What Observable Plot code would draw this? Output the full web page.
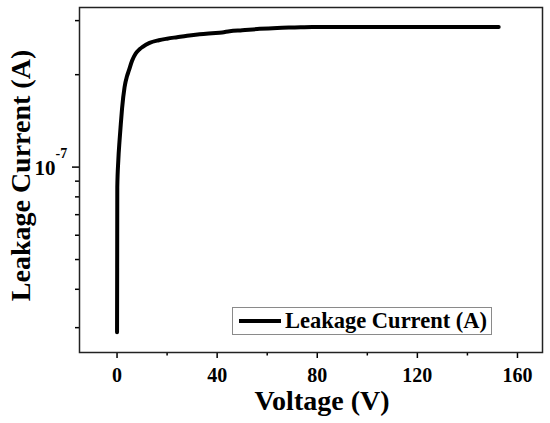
<!DOCTYPE html>
<html>
<head>
<meta charset="utf-8">
<script src="https://cdn.jsdelivr.net/npm/d3@7"></script>
<script src="https://cdn.jsdelivr.net/npm/@observablehq/plot@0.6"></script>
<style>
  html, body { margin: 0; padding: 0; background: #fff; }
  #wrap { position: relative; width: 550px; height: 423px; }
  #legend {
    position: absolute; left: 232px; top: 307px; width: 260px; height: 28px;
    border: 1px solid #8a8a8a; background: #fff; box-sizing: border-box;
    display: flex; align-items: center;
    font-family: "Liberation Serif", "Times New Roman", serif; font-weight: bold; font-size: 22.5px; color: #000;
  }
  #legend .swatch { display: inline-block; width: 42px; height: 0; border-top: 4px solid #000; margin: 0 4px 0 6px; }
</style>
</head>
<body>
<div id="wrap"></div>
<script>
// Data
const voltage = [0, 0.05, 0.1, 0.5, 1.0, 1.5, 2.0, 3.0, 4.0, 4.7, 6.0, 7.4, 9.0, 10.1, 13, 16.7, 20, 24, 28, 33, 38, 42, 45, 50, 57, 64, 71, 78, 100, 125, 152.5];
const current = [2.90e-8, 4.7e-8, 8.6e-8, 1.05e-7, 1.22e-7, 1.38e-7, 1.55e-7, 1.82e-7, 1.98e-7, 2.06e-7, 2.22e-7, 2.34e-7, 2.42e-7, 2.46e-7, 2.54e-7, 2.59e-7, 2.62e-7, 2.65e-7, 2.68e-7, 2.71e-7, 2.73e-7, 2.745e-7, 2.77e-7, 2.79e-7, 2.82e-7, 2.84e-7, 2.85e-7, 2.86e-7, 2.86e-7, 2.86e-7, 2.86e-7];
const xTicks = [0, 40, 80, 120, 160];
const xMinorTicks = [20, 60, 100, 140];
const yMajorTicks = [1e-7];
const yMinorTicks = [3e-8, 4e-8, 5e-8, 6e-8, 7e-8, 8e-8, 9e-8, 2e-7, 3e-7];
const yTickBase = ["10"];
const yTickExp = ["-7"];
const xLabel = "Voltage (V)";
const yLabel = "Leakage Current (A)";
const seriesName = "Leakage Current (A)";

const data = voltage.map((v, i) => ({v, c: current[i]}));
const serif = "'Liberation Serif', 'Times New Roman', serif";

const chart = Plot.plot({
  width: 550,
  height: 423,
  marginLeft: 79,
  marginRight: 8,
  marginTop: 7,
  marginBottom: 71,
  style: {fontFamily: serif, fontWeight: "bold", background: "#fff", color: "#000", overflow: "visible"},
  x: {domain: [-15, 170]},
  y: {type: "log", domain: [2.49e-8, 3.31e-7]},
  marks: [
    Plot.axisX({ticks: xTicks, tickSize: 6, tickPadding: 9, fontSize: 20, fontWeight: "bold", tickFormat: d => String(d), strokeWidth: 1.5, label: null}),
    Plot.axisX({ticks: xMinorTicks, tickSize: 3.5, text: null, strokeWidth: 1.5, label: null}),
    Plot.axisY({ticks: yMajorTicks, tickSize: 7, text: null, strokeWidth: 1.5, label: null}),
    Plot.axisY({ticks: yMinorTicks, tickSize: 4, text: null, strokeWidth: 1.5, label: null}),
    Plot.text(yMajorTicks.map((t, i) => ({t, s: yTickBase[i]})), {y: "t", text: "s", frameAnchor: "left", textAnchor: "end", dx: -24, dy: 1.6, fontSize: 21, fontWeight: "bold"}),
    Plot.text(yMajorTicks.map((t, i) => ({t, s: yTickExp[i]})), {y: "t", text: "s", frameAnchor: "left", textAnchor: "start", dx: -24, dy: -14, fontSize: 14, fontWeight: "bold"}),
    Plot.text([yLabel], {frameAnchor: "left", rotate: -90, dx: -58, dy: -4.5, fontSize: 28, fontWeight: "bold", textAnchor: "middle", lineAnchor: "middle"}),
    Plot.text([xLabel], {frameAnchor: "bottom", dx: 11, dy: 48.5, fontSize: 28, fontWeight: "bold", textAnchor: "middle", lineAnchor: "middle"}),
    Plot.line(data, {x: "v", y: "c", stroke: "#000", strokeWidth: 4, curve: "monotone-x", strokeLinecap: "round"}),
    Plot.frame({stroke: "#222", strokeWidth: 1.5})
  ]
});

const wrap = document.getElementById("wrap");
wrap.appendChild(chart);
const legend = document.createElement("div");
legend.id = "legend";
legend.innerHTML = `<span class="swatch"></span><span>${seriesName}</span>`;
wrap.appendChild(legend);
</script>
</body>
</html>
